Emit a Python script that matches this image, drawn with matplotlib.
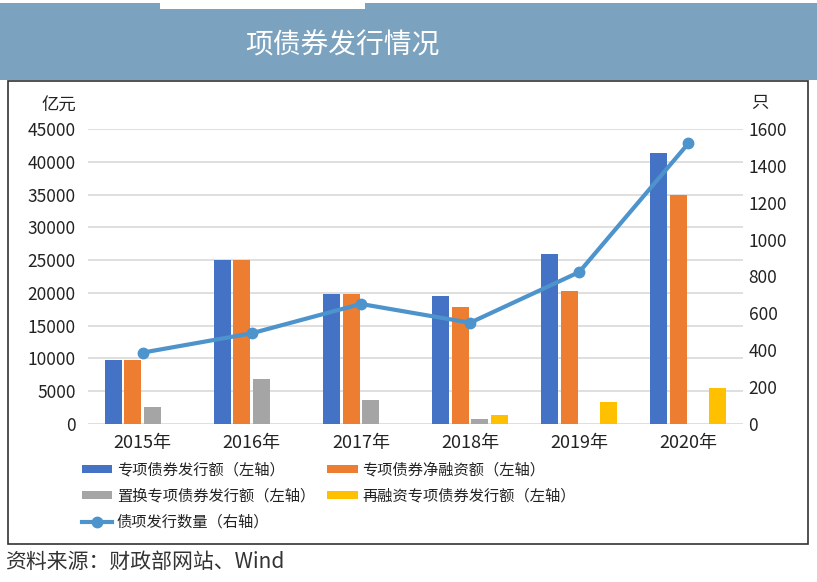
"""Recreates the special-bond issuance chart and saves it to out.png."""

import matplotlib
matplotlib.use('agg')
from matplotlib import pyplot
from matplotlib.patches import Rectangle
import numpy

pyplot.rcParams['font.family'] = ['Noto Sans CJK SC', 'DejaVu Sans']

YEARS = ['2015年', '2016年', '2017年', '2018年', '2019年', '2020年']
ISSUED = [9744, 25000, 19900, 19460, 25900, 41300]
NET_FINANCING = [9744, 25000, 19900, 17900, 20240, 34900]
REPLACEMENT = [2600, 6900, 3600, 760, 0, 0]
REFINANCING = [0, 0, 0, 1420, 3360, 5440]
ISSUE_COUNT = [387, 492, 651, 549, 824, 1522]

BAR_LABELS = [
    '专项债券发行额（左轴）', '专项债券净融资额（左轴）',
    '置换专项债券发行额（左轴）', '再融资专项债券发行额（左轴）'
]
LINE_LABEL = '债项发行数量（右轴）'
BAR_COLOURS = ['#4472c4', '#ed7d31', '#a5a5a5', '#ffc000']
LINE_COLOUR = '#4d93cc'
TEXT_COLOUR = '#222222'

figure_object = pyplot.figure(figsize=(8.17, 5.82), dpi=100)

# header band
figure_object.patches.append(Rectangle(
    (0, 1 - 80 / 582.), 1, 77 / 582., transform=figure_object.transFigure,
    facecolor='#7ba2be', edgecolor='none', zorder=0
))
figure_object.patches.append(Rectangle(
    (160 / 817., 1 - 9 / 582.), 205 / 817., 9 / 582.,
    transform=figure_object.transFigure, facecolor='white',
    edgecolor='none', zorder=1
))
figure_object.text(
    245 / 817., 1 - 45 / 582., '项债券发行情况', color='white', fontsize=20,
    ha='left', va='center'
)

# chart frame
figure_object.patches.append(Rectangle(
    (8 / 817., 1 - 544 / 582.), 800 / 817., 463 / 582.,
    transform=figure_object.transFigure, facecolor='white',
    edgecolor='#333333', linewidth=1.2, zorder=1
))

axes_object = figure_object.add_axes([0.1077, 0.2715, 0.8017, 0.5069])
axes_object.set_zorder(2)
axes_object.patch.set_visible(False)

x_values = numpy.arange(len(YEARS))
bar_width = 0.155
bar_step = 0.18
bar_series = [ISSUED, NET_FINANCING, REPLACEMENT, REFINANCING]
bar_handles = []
for i, values in enumerate(bar_series):
    handle = axes_object.bar(
        x_values + (i - 1.5) * bar_step, values, width=bar_width,
        color=BAR_COLOURS[i], label=BAR_LABELS[i], zorder=3
    )
    bar_handles.append(handle)

axes_object.set_xlim(-0.5, len(YEARS) - 0.5)
axes_object.set_ylim(0, 45000)
axes_object.set_yticks(numpy.arange(0, 45001, 5000))
axes_object.set_xticks(x_values)
axes_object.set_xticklabels(YEARS)
axes_object.grid(axis='y', color='#d9d9d9', linewidth=1.2, zorder=0)
axes_object.set_axisbelow(True)
for spine in axes_object.spines.values():
    spine.set_visible(False)
axes_object.tick_params(axis='y', length=0, labelsize=12.5,
                        colors=TEXT_COLOUR, pad=9)
axes_object.tick_params(axis='x', length=0, labelsize=13,
                        colors=TEXT_COLOUR, pad=7)

right_axes_object = axes_object.twinx()
line_handle, = right_axes_object.plot(
    x_values, ISSUE_COUNT, color=LINE_COLOUR, linewidth=3, marker='o',
    markersize=7.5, label=LINE_LABEL, zorder=4
)
right_axes_object.set_ylim(0, 1600)
right_axes_object.set_yticks(numpy.arange(0, 1601, 200))
for spine in right_axes_object.spines.values():
    spine.set_visible(False)
right_axes_object.tick_params(
    axis='y', length=0, labelsize=12.5, colors=TEXT_COLOUR, pad=4
)

figure_object.text(
    76 / 817., 1 - 106 / 582., '亿元', fontsize=12.5, color=TEXT_COLOUR,
    ha='right', va='center'
)
figure_object.text(
    751 / 817., 1 - 103 / 582., '只', fontsize=12.5, color=TEXT_COLOUR,
    ha='left', va='center'
)

# row-major order for a two-column legend
legend_handles = [bar_handles[0], bar_handles[2], line_handle,
                  bar_handles[1], bar_handles[3]]
legend_labels = [BAR_LABELS[0], BAR_LABELS[2], LINE_LABEL,
                 BAR_LABELS[1], BAR_LABELS[3]]
legend_object = figure_object.legend(
    legend_handles, legend_labels, loc='upper left',
    bbox_to_anchor=(68 / 817., 1 - 448 / 582.), ncol=2, frameon=False,
    fontsize=11, handlelength=2.0, handleheight=0.4,
    columnspacing=0.8, labelspacing=0.58, handletextpad=0.3
)
legend_object.set_zorder(3)
for text_object in legend_object.get_texts():
    text_object.set_color(TEXT_COLOUR)

figure_object.text(
    5 / 817., 1 - 562 / 582., '资料来源：财政部网站、Wind', fontsize=15,
    color='#333333', ha='left', va='center'
)

figure_object.savefig('out.png', dpi=100)
pyplot.close(figure_object)
